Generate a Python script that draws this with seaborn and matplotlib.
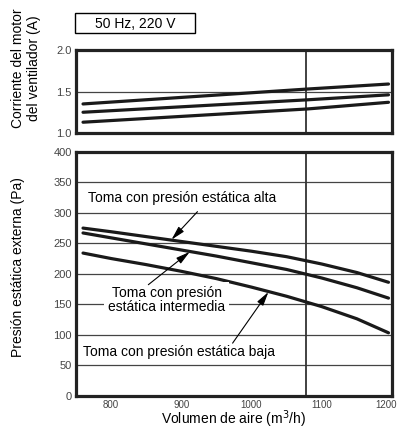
import matplotlib
matplotlib.use("Agg")
import matplotlib.pyplot as plt
from matplotlib.patches import Rectangle
from matplotlib.transforms import ScaledTranslation
import pandas as pd
import seaborn as sns

# Static pressure curves (Pa) against airflow (m3/h)
airflow = [760, 800, 850, 900, 950, 1000, 1050, 1100, 1150, 1195]
pressure_alta = [275, 269, 261, 253, 245, 237, 228, 216, 202, 186]
pressure_intermedia = [267, 259, 249, 239, 229, 218, 207, 193, 177, 160]
pressure_baja = [234, 225, 215, 204, 192, 178, 163, 146, 126, 103]

# Fan motor current (A) against airflow
current_airflow = [760, 1080, 1195]
current_alta = [1.35, 1.53, 1.59]
current_intermedia = [1.25, 1.40, 1.46]
current_baja = [1.13, 1.29, 1.37]

rated_airflow = 1078
pressure_ticks = [0, 50, 100, 150, 200, 250, 300, 350, 400]
current_ticks = [1.0, 1.5, 2.0]
airflow_ticks = [800, 900, 1000, 1100, 1200]
series_names = ["alta", "intermedia", "baja"]

pressure_df = pd.concat([
    pd.DataFrame({"airflow": airflow, "value": vals, "toma": name})
    for name, vals in zip(series_names, [pressure_alta, pressure_intermedia, pressure_baja])
])
current_df = pd.concat([
    pd.DataFrame({"airflow": current_airflow, "value": vals, "toma": name})
    for name, vals in zip(series_names, [current_alta, current_intermedia, current_baja])
])

sns.set_theme(style="white")
plt.rcParams["font.family"] = ["Liberation Sans", "DejaVu Sans"]

W, H = 398, 430
fig = plt.figure(figsize=(W / 100, H / 100), dpi=100)
left, right = 76, 392
ax_top = fig.add_axes([left / W, 1 - 133 / H, (right - left) / W, 83 / H])
ax_bot = fig.add_axes([left / W, 1 - 395.5 / H, (right - left) / W, 243.5 / H])

line_color = "#1a1a1a"
pal = {n: line_color for n in series_names}

for ax in (ax_top, ax_bot):
    ax.set_xlim(750, 1200)
    for s in ax.spines.values():
        s.set_linewidth(2.3)
        s.set_color("#222222")
    ax.axvline(rated_airflow, color="#333333", lw=1.3, zorder=2)

# Upper panel: motor current
sns.lineplot(data=current_df, x="airflow", y="value", hue="toma", palette=pal,
             linewidth=2.3, legend=False, ax=ax_top, zorder=4)
ax_top.set_ylim(1.0, 2.0)
ax_top.axhline(1.5, color="#444444", lw=0.9, zorder=1)
ax_top.set_yticks(current_ticks)
ax_top.set_yticklabels([f"{t:.1f}" for t in current_ticks])
ax_top.set_xticks([])
ax_top.tick_params(axis="y", length=0, pad=3, labelsize=8, labelcolor="#444444")
ax_top.set_xlabel("")
ax_top.set_ylabel("")

# Lower panel: external static pressure
sns.lineplot(data=pressure_df, x="airflow", y="value", hue="toma", palette=pal,
             linewidth=2.3, legend=False, ax=ax_bot, zorder=4)
ax_bot.set_ylim(0, 400)
for t in pressure_ticks[1:-1]:
    ax_bot.axhline(t, color="#444444", lw=0.9, zorder=1)
ax_bot.set_yticks(pressure_ticks)
ax_bot.set_xticks(airflow_ticks)
ax_bot.set_xticklabels([str(t) for t in airflow_ticks])
ax_bot.tick_params(axis="y", length=0, pad=3, labelsize=8, labelcolor="#444444")
ax_bot.tick_params(axis="x", direction="in", length=3, width=1, color="#222222",
                   pad=3, labelsize=7, labelcolor="#444444")
ax_bot.set_xlabel("")
ax_bot.set_ylabel("")
# keep the last airflow label inside the canvas
last_lbl = ax_bot.get_xticklabels()[-1]
last_lbl.set_transform(last_lbl.get_transform()
                       + ScaledTranslation(-6 / 100, 0, fig.dpi_scale_trans))

arrow = dict(arrowstyle="-|>,head_length=0.7,head_width=0.18", lw=0.8,
             color="black", shrinkA=0, shrinkB=0)
ax_bot.text(767, 324, "Toma con presión estática alta", fontsize=10,
            ha="left", va="center", color="black", zorder=5)
ax_bot.annotate("", xy=(886, 256), xytext=(923, 302), arrowprops=arrow, zorder=5)

ax_bot.text(879, 157, "Toma con presión\nestática intermedia", fontsize=10,
            ha="center", va="center", linespacing=0.95, color="black", zorder=5,
            bbox=dict(facecolor="white", edgecolor="none", pad=3))
ax_bot.annotate("", xy=(912, 236), xytext=(853, 182), arrowprops=arrow, zorder=5)

ax_bot.text(760, 71, "Toma con presión estática baja", fontsize=10,
            ha="left", va="center", color="black", zorder=5)
ax_bot.annotate("", xy=(1024, 170), xytext=(973, 86), arrowprops=arrow, zorder=5)

# Supply condition box
fig.add_artist(Rectangle((75 / W, 1 - 33 / H), 120 / W, 20 / H,
                         transform=fig.transFigure, fill=False,
                         edgecolor="black", lw=1))
fig.text(135 / W, 1 - 23.5 / H, "50 Hz, 220 V", fontsize=10,
         ha="center", va="center", color="black")

# Axis titles
fig.text(26 / W, 1 - 68 / H, "Corriente del motor\ndel ventilador (A)",
         rotation=90, fontsize=10, ha="center", va="center",
         multialignment="center", color="black")
fig.text(18 / W, 1 - 267 / H, "Presión estática externa (Pa)", rotation=90,
         fontsize=10, ha="center", va="center", color="black")
fig.text(234 / W, 1 - 424.5 / H, "Volumen de aire (m$^3$/h)", fontsize=10,
         ha="center", va="baseline", color="black")

fig.savefig("out.png", dpi=100)
